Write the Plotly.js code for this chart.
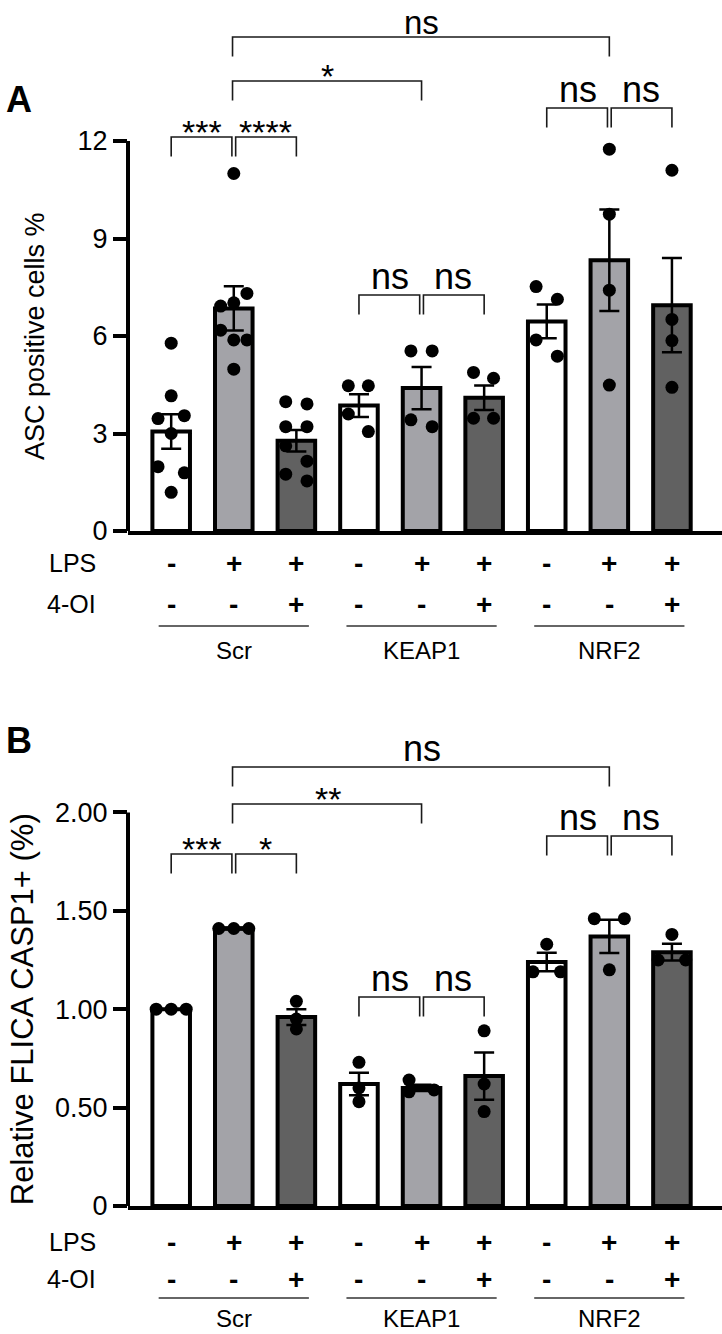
<!DOCTYPE html>
<html>
<head>
<meta charset="utf-8">
<script src="https://cdn.plot.ly/plotly-3.0.1.min.js"></script>
<style>
  html, body { margin: 0; padding: 0; background: #ffffff; }
  #chart { width: 722px; height: 1334px; }
</style>
</head>
<body>
<div id="chart"></div>
<script>
// ---- conditions -------------------------------------------------------
const groups = ['Scr', 'KEAP1', 'NRF2'];
const lpsSigns = ['-', '+', '+', '-', '+', '+', '-', '+', '+'];
const oiSigns  = ['-', '-', '+', '-', '-', '+', '-', '-', '+'];
const barColors = ['#ffffff', '#a3a3a8', '#616161',
                   '#ffffff', '#a3a3a8', '#616161',
                   '#ffffff', '#a3a3a8', '#616161'];

// ---- panel A: ASC positive cells % -----------------------------------
const ascMean = [3.06, 6.85, 2.78, 3.86, 4.40, 4.10, 6.45, 8.33, 6.95];
const ascSem  = [0.53, 0.68, 0.33, 0.35, 0.65, 0.38, 0.52, 1.56, 1.45];
const ascPoints = [
  [5.78, 4.16, 3.46, 3.55, 3.00, 1.98, 1.79, 1.19],
  [11.0, 7.31, 7.02, 6.92, 6.18, 5.88, 5.88, 4.98],
  [3.98, 3.91, 3.21, 3.21, 2.62, 2.15, 1.75, 1.54],
  [4.47, 4.47, 3.60, 3.06],
  [5.54, 5.54, 3.42, 3.21],
  [4.88, 4.70, 3.47, 3.47],
  [7.52, 7.13, 5.88, 5.38],
  [11.75, 9.75, 7.41, 4.49],
  [11.1, 6.51, 5.86, 4.42]
];
// horizontal spread of the dots inside each bar (category units)
const ascSpread = [
  [0, 0, -0.21, 0.21, 0, -0.21, 0.21, 0],
  [0, 0.21, 0, -0.21, -0.21, 0, 0.21, 0],
  [-0.17, 0.17, -0.17, 0.17, -0.17, 0.17, -0.17, 0.17],
  [-0.17, 0.15, -0.17, 0.15],
  [-0.17, 0.17, -0.17, 0.17],
  [-0.17, 0.15, -0.17, 0.15],
  [-0.17, 0.17, -0.17, 0.17],
  [0, 0, 0, 0],
  [0, 0, 0, 0]
];
const ascTicks = [0, 3, 6, 9, 12];
const ascTickText = ['0', '3', '6', '9', '12'];
const ascPairs  = [[1, 7], [1, 4], [0, 1], [1, 2], [3, 4], [4, 5], [6, 7], [7, 8]];
const ascLabels = ['ns', '*', '***', '****', 'ns', 'ns', 'ns', 'ns'];

// ---- panel B: relative FLICA CASP1+ ----------------------------------
const flicaMean = [1.00, 1.41, 0.96, 0.62, 0.60, 0.66, 1.24, 1.37, 1.29];
const flicaSem  = [0.00, 0.005, 0.04, 0.057, 0.016, 0.12, 0.047, 0.085, 0.043];
const flicaPoints = [
  [1.00, 1.00, 1.00],
  [1.41, 1.41, 1.41],
  [1.04, 0.95, 0.90],
  [0.73, 0.60, 0.53],
  [0.64, 0.58, 0.59],
  [0.89, 0.62, 0.48],
  [1.33, 1.19, 1.19],
  [1.46, 1.46, 1.20],
  [1.38, 1.25, 1.25]
];
const flicaSpread = [
  [-0.24, 0, 0.24],
  [-0.24, 0, 0.24],
  [0, 0, 0],
  [0, 0, 0],
  [-0.2, -0.2, 0.2],
  [0, 0, 0],
  [0, -0.22, 0.22],
  [-0.24, 0.24, 0],
  [0, -0.22, 0.22]
];
const flicaTicks = [0, 0.5, 1.0, 1.5, 2.0];
const flicaTickText = ['0', '0.50', '1.00', '1.50', '2.00'];
const flicaPairs  = [[1, 7], [1, 4], [0, 1], [1, 2], [3, 4], [4, 5], [6, 7], [7, 8]];
const flicaLabels = ['ns', '**', '***', '*', 'ns', 'ns', 'ns', 'ns'];

// ---- page geometry (pixels) ------------------------------------------
const W = 722, H = 1334;
const FONT = 'Liberation Sans, Arial, Helvetica, sans-serif';
const plotLeft = 128;
const xRange = [-0.69, 8.80];
const panels = [
  { key: '', zeroPx: 531, topPx: 0, unitPx: 32.5, axisTop: 12,
    mean: ascMean, sem: ascSem, pts: ascPoints, spread: ascSpread,
    ticks: ascTicks, tickText: ascTickText, pairs: ascPairs, labels: ascLabels,
    bracketPx: [37, 81, 137, 137, 295, 295, 108, 108],
    labelShift: [-6, -16, -16, -16, -4, -4, -4, -4],
    labelSize: [33, 34, 34, 34, 36, 36, 36, 36],
    title: 'ASC positive cells %', titleX: 35, titleSize: 27, letter: 'A', letterPx: 100,
    lpsPx: 563, oiPx: 604, linePx: 626, groupPx: 650 },
  { key: '2', zeroPx: 1206, topPx: 700, unitPx: 196.8, axisTop: 2,
    mean: flicaMean, sem: flicaSem, pts: flicaPoints, spread: flicaSpread,
    ticks: flicaTicks, tickText: flicaTickText, pairs: flicaPairs, labels: flicaLabels,
    bracketPx: [767, 804, 854, 854, 997, 997, 836, 836],
    labelShift: [-4, -16, -16, -16, -4, -4, -4, -4],
    labelSize: [36, 34, 34, 34, 36, 36, 36, 36],
    title: 'Relative FLICA CASP1+ (%)', titleX: 22, titleSize: 31, letter: 'B', letterPx: 740,
    lpsPx: 1242, oiPx: 1279, linePx: 1298, groupPx: 1318 }
];
const paperY = px => 1 - px / H;

const traces = [];
const shapes = [];
const annotations = [];
const layout = {
  width: W, height: H,
  margin: { l: 0, r: 0, t: 0, b: 0 },
  paper_bgcolor: '#ffffff', plot_bgcolor: '#ffffff',
  showlegend: false,
  font: { family: FONT, color: '#000000' }
};

const idx = lpsSigns.map((_, i) => i);

panels.forEach(p => {
  const xa = 'x' + p.key, ya = 'y' + p.key;
  const yMax = (p.zeroPx - p.topPx) / p.unitPx;

  layout['xaxis' + p.key] = {
    domain: [plotLeft / W, 1], range: xRange, anchor: ya,
    showline: true, linewidth: 4, linecolor: '#000000',
    showticklabels: false, ticks: '', showgrid: false, zeroline: false, fixedrange: true
  };
  layout['yaxis' + p.key] = {
    domain: [paperY(p.zeroPx), paperY(p.topPx)], range: [0, yMax], anchor: xa,
    tickmode: 'array', tickvals: p.ticks, ticktext: p.tickText,
    ticks: 'outside', ticklen: 14, tickwidth: 4, tickcolor: '#000000',
    tickfont: { family: FONT, size: 27, color: '#000000' },
    showline: false, showgrid: false, zeroline: false, fixedrange: true
  };

  // bars with SEM
  traces.push({
    type: 'bar', x: idx, y: p.mean, xaxis: xa, yaxis: ya, width: 0.6,
    marker: { color: barColors, line: { color: '#000000', width: 4 } },
    error_y: { type: 'data', array: p.sem, visible: true, color: '#000000', thickness: 2.5, width: 10 },
    hoverinfo: 'skip'
  });

  // individual replicates
  const px = [], py = [];
  p.pts.forEach((vals, i) => vals.forEach((v, j) => { px.push(i + p.spread[i][j]); py.push(v); }));
  traces.push({
    type: 'scatter', mode: 'markers', x: px, y: py, xaxis: xa, yaxis: ya,
    marker: { color: '#000000', size: 13 }, hoverinfo: 'skip', cliponaxis: false
  });

  // vertical axis line, stopping at the top tick
  shapes.push({ type: 'line', xref: xa + ' domain', yref: ya, x0: 0, x1: 0, y0: 0, y1: p.axisTop,
                line: { color: '#000000', width: 4 } });

  // significance brackets
  const leg = 19.5 / p.unitPx;
  p.pairs.forEach((pr, k) => {
    const top = (p.zeroPx - p.bracketPx[k]) / p.unitPx;
    let x0 = pr[0], x1 = pr[1];
    p.pairs.forEach((o, m) => {
      if (m === k || p.bracketPx[m] !== p.bracketPx[k]) return;
      if (o[0] === pr[1]) x1 -= 0.03;
      if (o[1] === pr[0]) x0 += 0.03;
    });
    if (pr[1] - pr[0] > 1) x0 -= 0.02;
    shapes.push({
      type: 'path', xref: xa, yref: ya,
      path: `M ${x0},${top - leg} L ${x0},${top} L ${x1},${top} L ${x1},${top - leg}`,
      line: { color: '#1a1a1a', width: 1.6 }
    });
    annotations.push({
      xref: xa, yref: ya, x: (pr[0] + pr[1]) / 2, y: top,
      text: p.labels[k], showarrow: false, xanchor: 'center', yanchor: 'bottom',
      yshift: p.labelShift[k],
      font: { family: FONT, size: p.labelSize[k], color: '#000000' }
    });
  });

  // axis title
  annotations.push({
    xref: 'paper', yref: 'paper', x: p.titleX / W, y: paperY(p.zeroPx - p.axisTop * p.unitPx / 2),
    text: p.title, textangle: -90, showarrow: false, xanchor: 'center', yanchor: 'middle',
    font: { family: FONT, size: p.titleSize, color: '#000000' }
  });

  // panel letter
  annotations.push({
    xref: 'paper', yref: 'paper', x: 4 / W, y: paperY(p.letterPx),
    text: '<b>' + p.letter + '</b>', showarrow: false, xanchor: 'left', yanchor: 'middle',
    font: { family: FONT, size: 36, color: '#000000' }
  });

  // treatment rows
  [['LPS', lpsSigns, p.lpsPx], ['4-OI', oiSigns, p.oiPx]].forEach(row => {
    annotations.push({
      xref: 'paper', yref: 'paper', x: 98 / W, y: paperY(row[2]),
      text: row[0], showarrow: false, xanchor: 'right', yanchor: 'middle',
      font: { family: FONT, size: 25, color: '#000000' }
    });
    row[1].forEach((s, i) => annotations.push({
      xref: xa, yref: 'paper', x: i, y: paperY(row[2]),
      text: '<b>' + s + '</b>', showarrow: false, xanchor: 'center', yanchor: 'middle',
      font: { family: FONT, size: 28, color: '#000000' }
    }));
  });

  // group underlines and names
  groups.forEach((g, gi) => {
    shapes.push({ type: 'line', xref: xa, yref: 'paper',
                  x0: gi * 3 - 0.2, x1: gi * 3 + 2.2, y0: paperY(p.linePx), y1: paperY(p.linePx),
                  line: { color: '#333333', width: 1.5 } });
    annotations.push({
      xref: xa, yref: 'paper', x: gi * 3 + 1, y: paperY(p.groupPx),
      text: g, showarrow: false, xanchor: 'center', yanchor: 'middle',
      font: { family: FONT, size: 24, color: '#000000' }
    });
  });
});

layout.shapes = shapes;
layout.annotations = annotations;

Plotly.newPlot('chart', traces, layout, { staticPlot: true, displayModeBar: false });
</script>
</body>
</html>
